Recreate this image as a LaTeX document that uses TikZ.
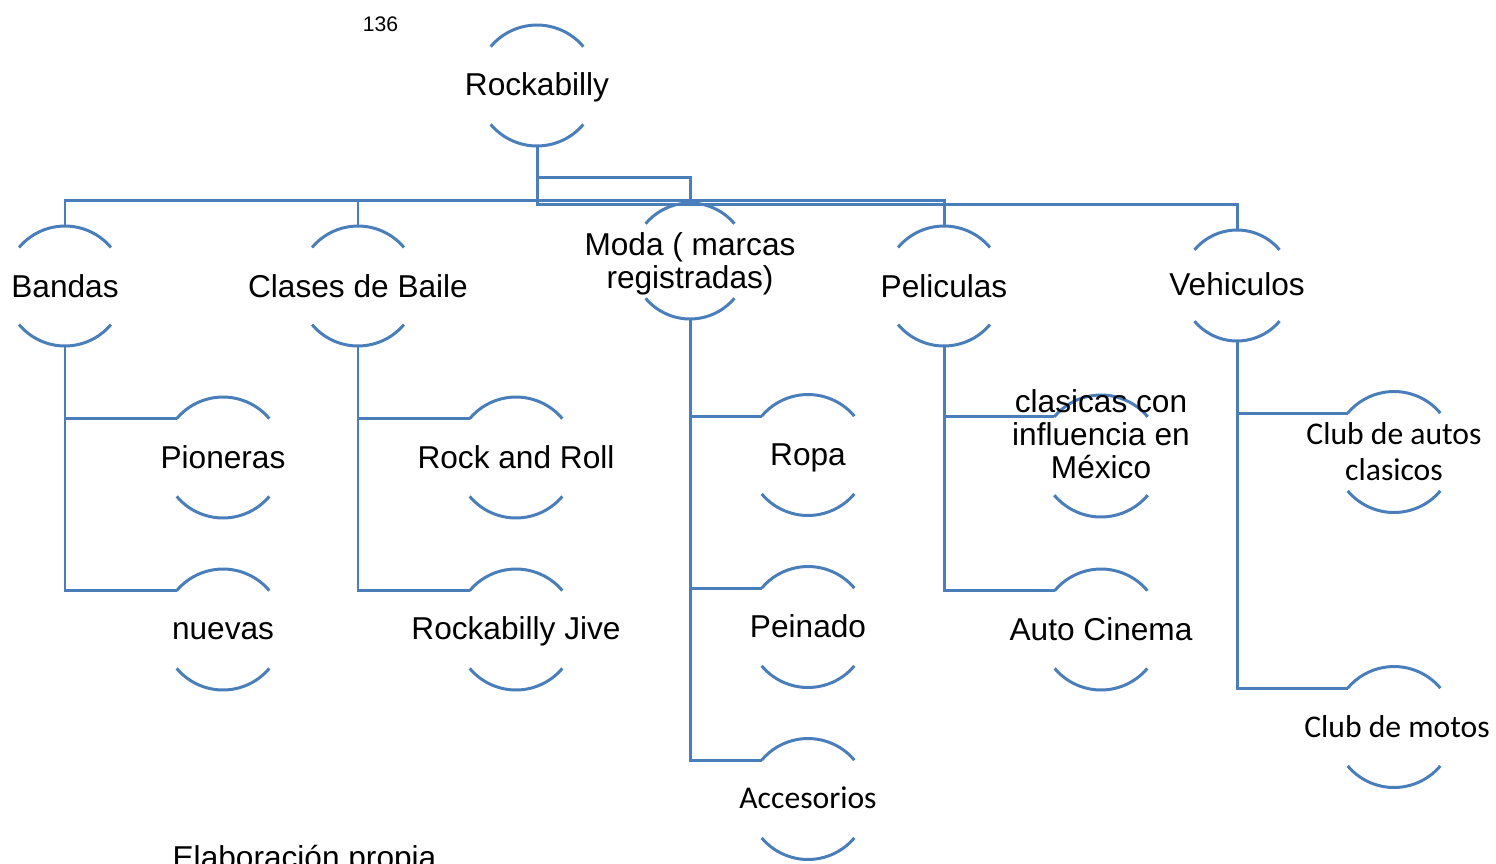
\documentclass[tikz,border=0pt]{standalone}
\usepackage{fontspec}
\setmainfont{Liberation Sans}
\newfontfamily\calibri{Carlito}
\definecolor{arcblue}{RGB}{74,126,187}
\tikzset{bubble/.style={circle,minimum size=2*#1,inner sep=0pt,outer sep=0pt},
         bubble/.default=1.21cm,
         txt/.style={font=\fontsize{18}{18.7}\selectfont,align=center,inner sep=0pt},
         cal/.style={txt,font=\calibri\fontsize{18}{20.4}\selectfont},
         link/.style={draw=arcblue,line width=1.7pt},
         }
% only the top and bottom part of each circle is drawn
\newcommand{\bubblearcs}[2]{%
  \draw[link] (#1.40) arc[start angle=40,end angle=140,radius=#2]
              (#1.220) arc[start angle=220,end angle=320,radius=#2];}

\begin{document}
\begin{tikzpicture}[x=0.02cm,y=0.02cm]
\useasboundingbox (0,0) rectangle (1496,-863);

\node[bubble] (root) at (537,-85.5) {};
\node[bubble=1.2cm] (bandas) at (65,-286) {};
\node[bubble=1.2cm] (clases) at (358,-286) {};
\node[bubble=1.16cm] (moda) at (690,-261) {};
\node[bubble=1.2cm] (peliculas) at (944,-286) {};
\node[bubble=1.11cm] (vehiculos) at (1237,-285.5) {};
\node[bubble] (pioneras) at (223,-457.5) {};
\node[bubble] (nuevas) at (223,-629.5) {};
\node[bubble] (rockroll) at (516,-457.5) {};
\node[bubble] (jive) at (516,-629.5) {};
\node[bubble] (ropa) at (808,-455) {};
\node[bubble] (peinado) at (808,-627) {};
\node[bubble] (accesorios) at (808,-799) {};
\node[bubble=1.22cm] (clasicas) at (1101,-456) {};
\node[bubble] (autocinema) at (1101,-629.5) {};
\node[bubble] (autos) at (1394,-452) {};
\node[bubble] (motos) at (1394,-727) {};

\foreach \nd/\r in {root/1.21cm,bandas/1.2cm,clases/1.2cm,moda/1.16cm,peliculas/1.2cm,
  vehiculos/1.11cm,pioneras/1.21cm,nuevas/1.21cm,rockroll/1.21cm,jive/1.21cm,
  ropa/1.21cm,peinado/1.21cm,accesorios/1.21cm,clasicas/1.22cm,autocinema/1.21cm,
  autos/1.21cm,motos/1.21cm}
  {\bubblearcs{\nd}{\r}}

% first level
\draw[link] (root.south) -- ++(0,-54.5) -| (bandas.north);
\draw[link] (root.south) -- ++(0,-54.5) -| (clases.north);
\draw[link] (root.south) -- ++(0,-31.5) -| (moda.north);
\draw[link] (root.south) -- ++(0,-54.5) -| (peliculas.north);
\draw[link] (root.south) -- ++(0,-58.5) -| (vehiculos.north);

% second level
\foreach \p/\c in {bandas/pioneras,bandas/nuevas,clases/rockroll,clases/jive,
  moda/ropa,moda/peinado,moda/accesorios,peliculas/clasicas,peliculas/autocinema,
  vehiculos/autos,vehiculos/motos}
  \draw[link] (\p.south) |- (\c.140);

\node[txt] (root-t) at (537,-87.5) {Rockabilly};
\node[txt] (bandas-t) at (bandas) {Bandas};
\node[txt] (clases-t) at (clases) {Clases de Baile};
\node[txt] (moda-t) at (690,-263.5) {Moda ( marcas\\registradas)};
\node[txt] (peliculas-t) at (peliculas) {Peliculas};
\node[txt] (vehiculos-t) at (1237,-284) {Vehiculos};
\node[txt] (pioneras-t) at (pioneras) {Pioneras};
\node[txt] (nuevas-t) at (223,-631) {nuevas};
\node[txt] (rockroll-t) at (rockroll) {Rock and Roll};
\node[txt] (jive-t) at (516,-631) {Rockabilly Jive};
\node[txt] (ropa-t) at (808,-457.5) {Ropa};
\node[txt] (peinado-t) at (808,-626) {Peinado};
\node[cal] (accesorios-t) at (808,-798) {Accesorios};
\node[txt] (clasicas-t) at (1101,-434) {clasicas con\\influencia en\\México};
\node[txt] (autocinema-t) at (autocinema) {Auto Cinema};
\node[cal] (autos-t) at (autos) {Club de autos\\clasicos};
\node[cal] (motos-t) at (1397,-727) {Club de motos};

\node[font=\fontsize{12}{14}\selectfont,inner sep=0pt] (pagina) at (380.5,-24) {136};
\node[txt,anchor=base] (fuente) at (304.5,-868.5) {Elaboración propia};
\end{tikzpicture}
\end{document}
